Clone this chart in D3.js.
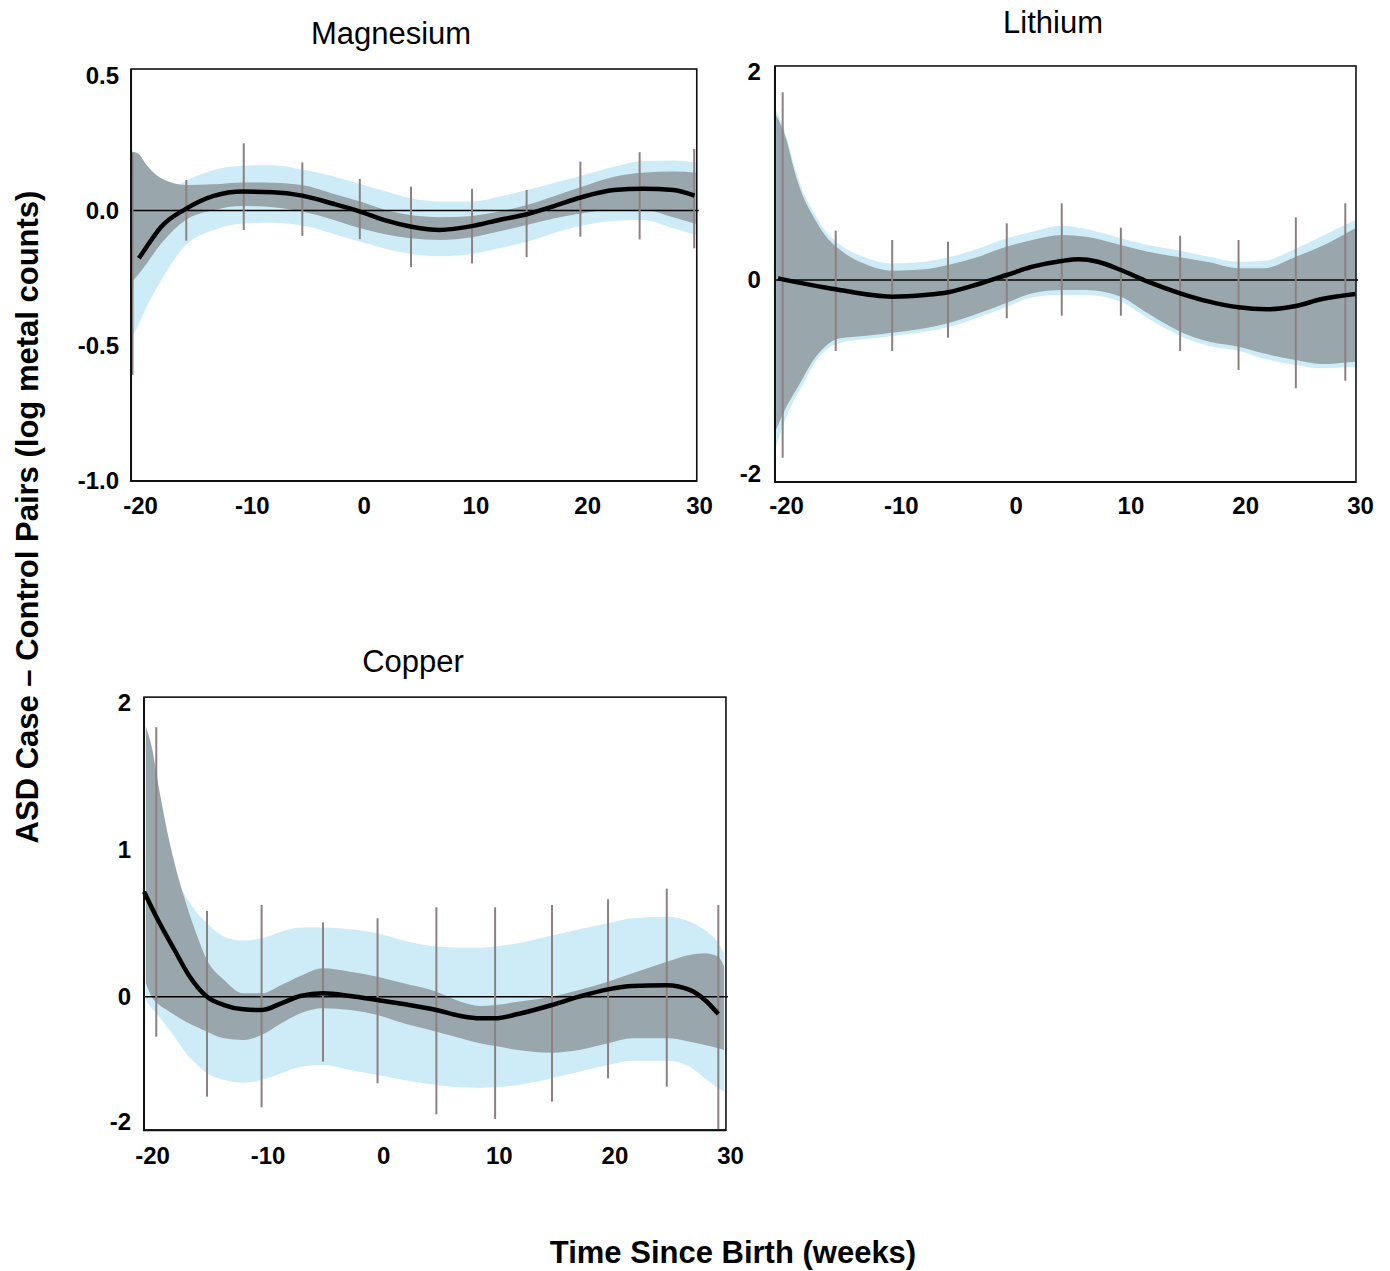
<!DOCTYPE html>
<html>
<head>
<meta charset="utf-8">
<script src="https://cdn.jsdelivr.net/npm/d3@7"></script>
<style>
  body { margin: 0; background: #fff; }
  svg { display: block; }
</style>
</head>
<body>
<svg id="fig" width="1390" height="1271"></svg>
<script>
// ---------- shared ----------
const xTicks = [-20, -10, 0, 10, 20, 30];
const mgYTicks = [-1.0, -0.5, 0.0, 0.5];
const liYTicks = [-2, 0, 2];
const cuYTicks = [-2, 0, 1, 2];

// ---------- Magnesium ----------
const mgX      = [-20.7, -20.2, -19.4, -18.1, -15.9, -13.4, -10.8, -8.1, -5.5, -2.8, -0.3, 1.8, 4.2, 6.8, 9.7, 12.1, 14.6, 17.1, 19.4, 22.4, 25.0, 27.7, 29.7];
const mgGrayHi = [0.218, 0.212, 0.168, 0.119, 0.094, 0.097, 0.104, 0.103, 0.094, 0.063, 0.033, 0.004, -0.017, -0.025, -0.020, -0.004, 0.020, 0.054, 0.086, 0.125, 0.140, 0.144, 0.140];
const mgGrayLo = [-0.264, -0.240, -0.196, -0.122, -0.035, 0.002, 0.017, 0.012, -0.004, -0.033, -0.066, -0.087, -0.103, -0.109, -0.099, -0.078, -0.054, -0.029, -0.011, 0.002, 0.002, -0.025, -0.050];
const mgBlueHi = [0.008, 0.017, 0.033, 0.060, 0.110, 0.150, 0.166, 0.168, 0.152, 0.128, 0.098, 0.073, 0.045, 0.033, 0.033, 0.051, 0.076, 0.103, 0.128, 0.162, 0.183, 0.185, 0.178];
const mgBlueLo = [-0.467, -0.430, -0.356, -0.258, -0.128, -0.072, -0.048, -0.045, -0.056, -0.085, -0.116, -0.140, -0.161, -0.169, -0.161, -0.140, -0.116, -0.082, -0.057, -0.038, -0.035, -0.066, -0.091];
const mgMeanX  = [-20.1, -19.4, -18.1, -15.9, -13.4, -10.8, -8.1, -5.5, -2.8, -0.3, 1.8, 4.3, 6.8, 9.8, 12.1, 14.6, 17.1, 19.4, 22.4, 25.0, 27.7, 29.6];
const mgMean   = [-0.177, -0.134, -0.060, 0.006, 0.054, 0.070, 0.068, 0.055, 0.026, -0.004, -0.035, -0.060, -0.072, -0.057, -0.035, -0.014, 0.017, 0.048, 0.076, 0.081, 0.076, 0.055];
const mgBarX   = [-20.67, -15.86, -10.72, -5.48, -0.34, 4.24, 9.70, 14.58, 19.39, 24.69, 29.57];
const mgBarHi  = [0.214, 0.113, 0.249, 0.178, 0.117, 0.088, 0.080, 0.076, 0.181, 0.216, 0.228];
const mgBarLo  = [-0.609, -0.112, -0.072, -0.094, -0.106, -0.210, -0.196, -0.173, -0.097, -0.107, -0.140];

// ---------- Lithium ----------
const liX      = [-20.86, -19.96, -19.29, -18.62, -17.61, -16.61, -15.27, -13.26, -10.75, -7.90, -5.89, -3.22, -0.77, 1.47, 4.02, 6.16, 9.17, 11.52, 14.33, 16.87, 19.42, 21.56, 24.41, 26.58, 29.59];
const liGrayHi = [1.587, 1.346, 1.058, 0.833, 0.609, 0.433, 0.288, 0.160, 0.090, 0.103, 0.144, 0.224, 0.321, 0.385, 0.433, 0.417, 0.337, 0.272, 0.218, 0.170, 0.112, 0.112, 0.224, 0.321, 0.497];
const liGrayLo = [-1.546, -1.306, -1.168, -1.031, -0.825, -0.687, -0.601, -0.577, -0.543, -0.498, -0.447, -0.344, -0.234, -0.137, -0.103, -0.103, -0.172, -0.344, -0.533, -0.636, -0.687, -0.756, -0.825, -0.866, -0.842];
const liBlueHi = [1.635, 1.378, 1.106, 0.881, 0.657, 0.481, 0.337, 0.224, 0.160, 0.176, 0.218, 0.304, 0.401, 0.465, 0.522, 0.490, 0.401, 0.337, 0.282, 0.224, 0.176, 0.183, 0.304, 0.417, 0.577];
const liBlueLo = [-1.718, -1.409, -1.237, -1.100, -0.876, -0.729, -0.646, -0.612, -0.577, -0.533, -0.488, -0.385, -0.275, -0.179, -0.155, -0.155, -0.223, -0.395, -0.577, -0.680, -0.729, -0.808, -0.876, -0.911, -0.893];
const liMeanX  = [-20.69, -15.67, -10.75, -7.90, -5.89, -3.22, -0.77, 1.47, 4.02, 5.49, 7.16, 9.17, 11.52, 14.33, 16.87, 19.42, 21.89, 24.41, 26.58, 29.59];
const liMean   = [0.016, -0.096, -0.172, -0.155, -0.127, -0.041, 0.048, 0.128, 0.183, 0.199, 0.176, 0.096, -0.017, -0.137, -0.223, -0.282, -0.302, -0.268, -0.199, -0.144];
const liBarX   = [-20.29, -15.67, -10.75, -5.89, -0.77, 4.02, 9.17, 14.33, 19.42, 24.41, 28.72];
const liBarHi  = [1.805, 0.474, 0.385, 0.368, 0.545, 0.737, 0.503, 0.426, 0.385, 0.603, 0.737];
const liBarLo  = [-1.832, -0.732, -0.732, -0.595, -0.395, -0.368, -0.368, -0.732, -0.928, -1.117, -1.038];

// ---------- Copper ----------
const cuX      = [-20.53, -20.03, -19.37, -18.71, -18.05, -17.06, -16.07, -15.24, -13.76, -12.11, -10.52, -8.81, -7.16, -5.21, -2.86, -0.49, 1.76, 4.60, 6.71, 8.36, 9.68, 11.66, 14.60, 16.94, 19.45, 21.56, 24.53, 26.51, 27.83, 28.99, 29.49];
const cuGrayHi = [1.839, 1.703, 1.408, 1.136, 0.909, 0.636, 0.409, 0.250, 0.114, 0.023, 0.023, 0.080, 0.141, 0.193, 0.170, 0.136, 0.091, 0.034, -0.080, -0.148, -0.132, -0.080, 0.000, 0.046, 0.102, 0.159, 0.238, 0.284, 0.296, 0.272, 0.204];
const cuGrayLo = [0.091, 0.000, -0.132, -0.212, -0.292, -0.399, -0.489, -0.558, -0.665, -0.691, -0.611, -0.425, -0.265, -0.186, -0.212, -0.292, -0.425, -0.558, -0.665, -0.745, -0.787, -0.851, -0.893, -0.851, -0.745, -0.665, -0.665, -0.718, -0.771, -0.824, -0.851];
const cuBlueHi = [0.954, 0.942, 0.909, 0.863, 0.806, 0.681, 0.568, 0.500, 0.409, 0.382, 0.398, 0.443, 0.472, 0.472, 0.459, 0.432, 0.382, 0.341, 0.334, 0.334, 0.341, 0.364, 0.416, 0.459, 0.500, 0.534, 0.545, 0.511, 0.454, 0.364, 0.296];
const cuBlueLo = [-0.053, -0.186, -0.319, -0.479, -0.638, -0.904, -1.090, -1.223, -1.330, -1.373, -1.330, -1.223, -1.117, -1.090, -1.170, -1.250, -1.330, -1.409, -1.446, -1.452, -1.446, -1.409, -1.303, -1.197, -1.090, -1.022, -1.022, -1.117, -1.303, -1.462, -1.516];
const cuMeanX  = [-20.69, -19.63, -18.05, -16.73, -15.24, -13.76, -12.11, -10.52, -8.81, -7.16, -5.21, -2.86, -0.49, 1.76, 4.60, 6.71, 8.36, 9.68, 11.66, 14.60, 16.94, 19.45, 21.56, 24.53, 26.51, 27.83, 28.99];
const cuMean   = [0.715, 0.545, 0.318, 0.136, 0.000, -0.133, -0.202, -0.213, -0.106, 0.005, 0.023, 0.005, -0.053, -0.117, -0.213, -0.308, -0.345, -0.345, -0.277, -0.133, 0.000, 0.050, 0.073, 0.078, 0.046, -0.053, -0.277];
const cuBarX   = [-19.63, -15.24, -10.52, -5.21, -0.49, 4.60, 9.68, 14.60, 19.45, 24.53, 28.99];
const cuBarHi  = [1.835, 0.584, 0.625, 0.506, 0.534, 0.609, 0.609, 0.625, 0.663, 0.736, 0.625];
const cuBarLo  = [-0.638, -1.596, -1.766, -1.037, -1.383, -1.878, -1.953, -1.676, -1.303, -1.436, -2.12];

// ---------- styling ----------
const BLUE = "#cdecf8";
const GRAY = "#99a6ab";
const BAR  = "#8c8081";
const TEXT_FONT = "'Liberation Sans', Arial, Helvetica, sans-serif";

const panels = [
  {
    title: "Magnesium", titlePos: [391, 44],
    xs: d3.scaleLinear().domain([-20, 30]).range([140, 699]),
    ys: d3.scaleLinear().domain([-1, 0.5]).range([480.5, 75.5]),
    xBox: [-20.8, 29.8], yBox: [-1.002, 0.524],
    yTicks: mgYTicks, yFmt: d => d.toFixed(1), yPad: 12, xPad: 16,
    grid: mgX, grayHi: mgGrayHi, grayLo: mgGrayLo, blueHi: mgBlueHi, blueLo: mgBlueLo,
    meanX: mgMeanX, mean: mgMean, barX: mgBarX, barHi: mgBarHi, barLo: mgBarLo
  },
  {
    title: "Lithium", titlePos: [1053, 33],
    xs: d3.scaleLinear().domain([-20, 30]).range([786, 1360]),
    ys: d3.scaleLinear().domain([-2, 0, 2]).range([474, 280, 72]),
    xBox: [-20.96, 29.65], yBox: [-2.082, 2.058],
    yTicks: liYTicks, yFmt: d => String(d), yPad: 14, xPad: 15,
    grid: liX, grayHi: liGrayHi, grayLo: liGrayLo, blueHi: liBlueHi, blueLo: liBlueLo,
    meanX: liMeanX, mean: liMean, barX: liBarX, barHi: liBarHi, barLo: liBarLo
  },
  {
    title: "Copper", titlePos: [413, 672],
    xs: d3.scaleLinear().domain([-20, 30]).range([152, 730]),
    ys: d3.scaleLinear().domain([-2, 0, 2]).range([1122, 996.7, 703]),
    xBox: [-20.69, 29.65], yBox: [-2.13, 2.04],
    yTicks: cuYTicks, yFmt: d => String(d), yPad: 13, xPad: 17,
    grid: cuX, grayHi: cuGrayHi, grayLo: cuGrayLo, blueHi: cuBlueHi, blueLo: cuBlueLo,
    meanX: cuMeanX, mean: cuMean, barX: cuBarX, barHi: cuBarHi, barLo: cuBarLo
  }
];

const svg = d3.select("#fig");

function band(p, lo, hi) {
  return d3.area()
    .x((d, i) => p.xs(p.grid[i]))
    .y0((d, i) => p.ys(lo[i]))
    .y1((d, i) => p.ys(hi[i]))
    .curve(d3.curveMonotoneX)(p.grid);
}

function drawPanel(p) {
  const g = svg.append("g");
  const xs = p.xs, ys = p.ys;
  const left = xs(p.xBox[0]), right = xs(p.xBox[1]);
  const top = ys(p.yBox[1]), bottom = ys(p.yBox[0]);

  // confidence bands: wide (light blue) under narrow (grey)
  g.append("path").attr("d", band(p, p.blueLo, p.blueHi)).attr("fill", BLUE);
  g.append("path").attr("d", band(p, p.grayLo, p.grayHi)).attr("fill", GRAY);

  // zero reference
  g.append("line")
    .attr("x1", left).attr("x2", right + 2)
    .attr("y1", ys(0)).attr("y2", ys(0))
    .attr("stroke", "#000").attr("stroke-width", 1.5);

  // vertical error bars
  g.append("g").selectAll("line").data(p.barX).join("line")
    .attr("x1", d => xs(d)).attr("x2", d => xs(d))
    .attr("y1", (d, i) => ys(p.barHi[i]))
    .attr("y2", (d, i) => ys(p.barLo[i]))
    .attr("stroke", BAR).attr("stroke-width", 2);

  // fitted mean curve
  g.append("path")
    .attr("d", d3.line()
      .x(d => xs(d))
      .y((d, i) => ys(p.mean[i]))
      .curve(d3.curveMonotoneX)(p.meanX))
    .attr("fill", "none").attr("stroke", "#000")
    .attr("stroke-width", 4.5).attr("stroke-linecap", "butt");

  // frame
  g.append("rect")
    .attr("x", left).attr("y", top)
    .attr("width", right - left).attr("height", bottom - top)
    .attr("fill", "none").attr("stroke", "#111").attr("stroke-width", 1.6);
  g.append("path")
    .attr("d", `M${left},${top}V${bottom}H${right}`)
    .attr("fill", "none").attr("stroke", "#111").attr("stroke-width", 2);

  // axes (labels only; the frame carries the lines)
  const xa = g.append("g")
    .attr("transform", `translate(0,${bottom})`)
    .call(d3.axisBottom(xs).tickValues(xTicks).tickSize(0).tickPadding(p.xPad).tickFormat(d => String(d)));
  const ya = g.append("g")
    .attr("transform", `translate(${left},0)`)
    .call(d3.axisLeft(ys).tickValues(p.yTicks).tickSize(0).tickPadding(p.yPad).tickFormat(p.yFmt));
  [xa, ya].forEach(a => {
    a.select(".domain").remove();
    a.attr("font-family", TEXT_FONT).attr("font-size", 24).attr("font-weight", "bold");
    a.selectAll("text").attr("fill", "#000");
  });

  // panel title
  g.append("text")
    .attr("x", p.titlePos[0]).attr("y", p.titlePos[1])
    .attr("text-anchor", "middle")
    .attr("font-family", TEXT_FONT).attr("font-size", 31)
    .attr("fill", "#000")
    .text(p.title);
}

panels.forEach(drawPanel);

// shared axis titles
svg.append("text")
  .attr("transform", "translate(38,517) rotate(-90)")
  .attr("text-anchor", "middle")
  .attr("font-family", TEXT_FONT).attr("font-size", 31).attr("font-weight", "bold")
  .attr("fill", "#000")
  .text("ASD Case – Control Pairs (log metal counts)");

svg.append("text")
  .attr("x", 733).attr("y", 1263)
  .attr("text-anchor", "middle")
  .attr("font-family", TEXT_FONT).attr("font-size", 31).attr("font-weight", "bold")
  .attr("fill", "#000")
  .text("Time Since Birth (weeks)");
</script>
</body>
</html>
